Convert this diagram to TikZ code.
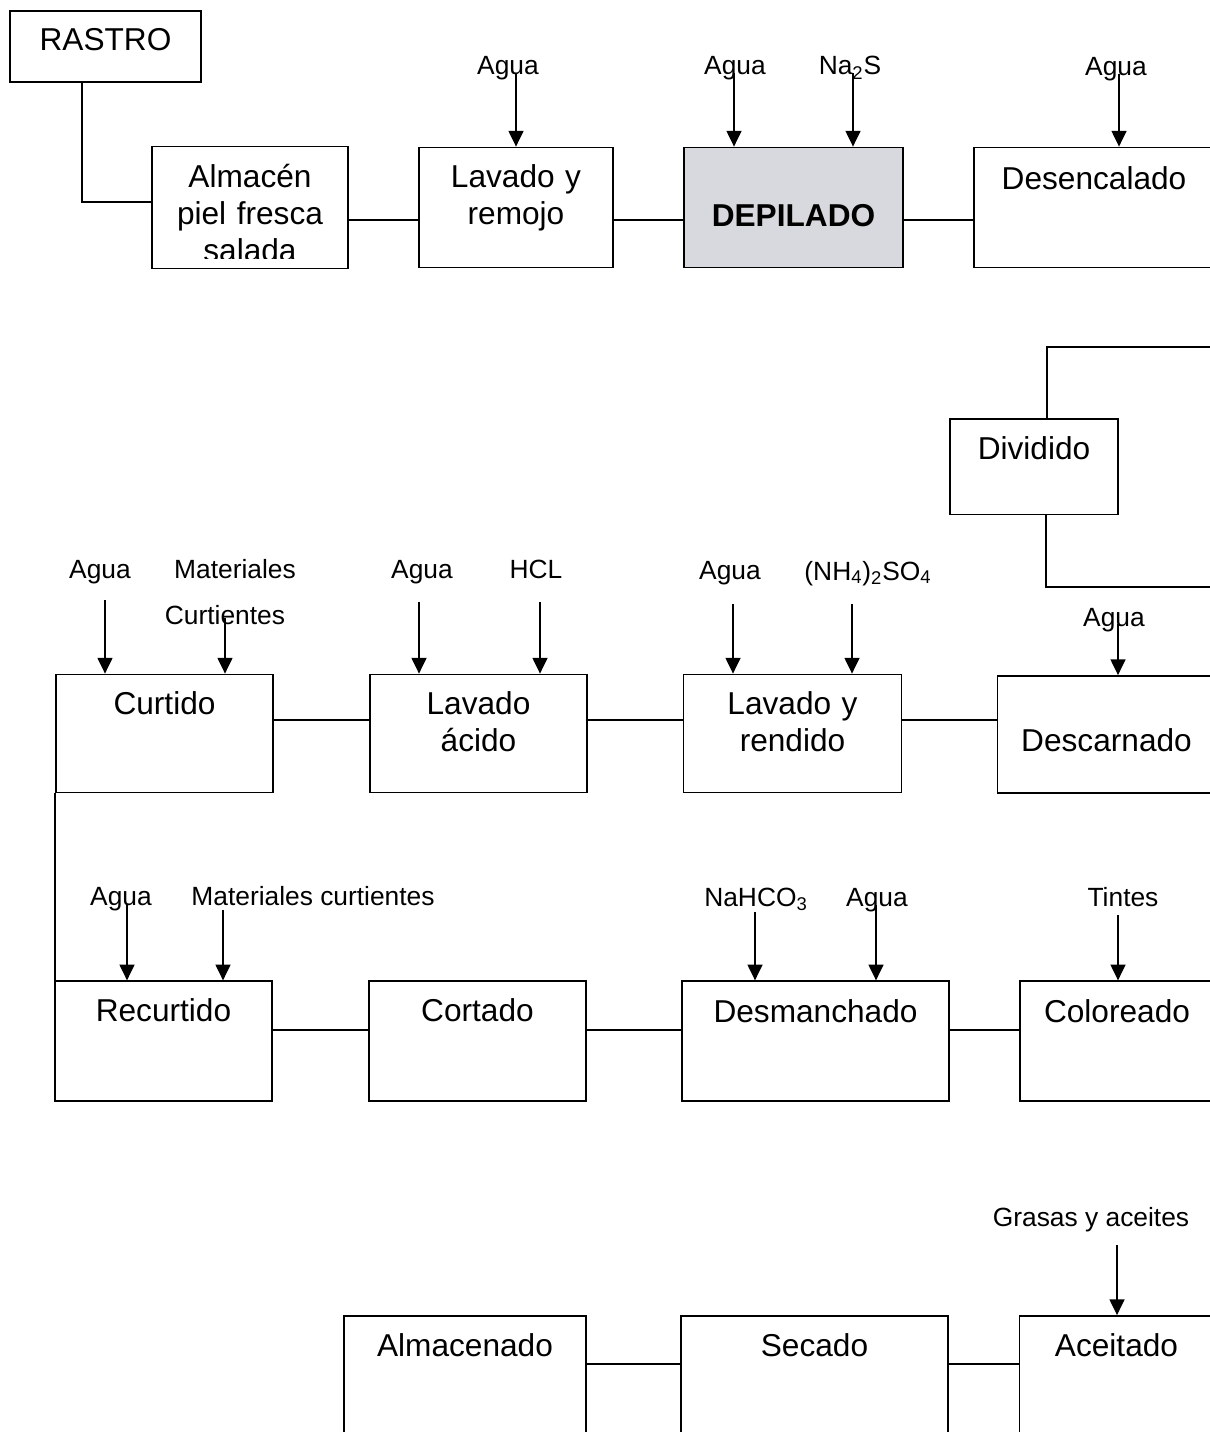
\documentclass[tikz,border=0pt]{standalone}
\usepackage{fontspec}
\setmainfont{Liberation Sans}
\usepackage{tikz}
\usetikzlibrary{positioning, arrows.meta}
\definecolor{depgray}{RGB}{216,217,222}
\tikzset{
  flujo/.style={
	>={Triangle[length=9pt, width=8.5pt]}, % filled heads on the inputs
	node distance=6.28cm, % centre to centre distance inside a row
  },
  proc/.style 2 args={draw, line width=1pt, inner sep=0pt, % process box
	text width=#1, align=center, % box width
	text height=0.8cm, text depth=#2, % text sits at the top of the box
	font=\fontsize{18}{21}\selectfont},
  insumo/.style={anchor=base, inner sep=0pt, font=\fontsize{15}{18}\selectfont}, % input labels
  link/.style={line width=0.8pt}, % lines between boxes
  entra/.style={->, line width=1pt}, % input arrows
}

\begin{document}
\begin{tikzpicture}[flujo]
	  \useasboundingbox (0,0) rectangle (24.2,-28.64);
	  \clip (0,0) rectangle (24.2,-28.64);

	  % row 1
	  \node[proc={3.82cm}{0.62cm}] (rastro) at (2.11,-0.93) {RASTRO};
	  \begin{scope}
	    \clip (0,-2) rectangle (10,-5.16);
	    \node[proc={3.88cm}{1.6cm}, draw=none] (almacen) at (5.0,-4.15) {Almacén\\piel fresca\\salada};
	  \end{scope}
	  \draw[line width=1pt] (almacen.south west) rectangle (almacen.north east);
	  \node[proc={3.88cm}{1.6cm}, right of=almacen, yshift=0cm, xshift=-0.96cm] (lavremojo) {Lavado y\\remojo};
	  \node[proc={4.38cm}{0.82cm}, text height=1.58cm, fill=depgray, font=\fontsize{18}{21}\selectfont\bfseries, right of=lavremojo, yshift=0cm, xshift=-0.73cm] (depilado) {DEPILADO};
	  \node[proc={4.8cm}{1.55cm}, text height=0.85cm, right of=depilado, yshift=0cm, xshift=-0.27cm] (desencalado) {Desencalado};

	  \node[proc={3.36cm}{1.11cm}] (dividido) at (20.68,-9.335) {Dividido};

	  % row 2
	  \node[proc={4.34cm}{1.56cm}] (curtido) at (3.29,-14.67) {Curtido};
	  \node[proc={4.34cm}{1.56cm}, right of=curtido, yshift=0cm, xshift=0cm] (lavacido) {Lavado\\ácido};
	  \node[proc={4.36cm}{1.56cm}, right of=lavacido, yshift=0cm, xshift=0cm] (lavrendido) {Lavado y\\rendido};
	  \node[proc={4.36cm}{0.84cm}, text height=1.5cm, right of=lavrendido, yshift=-0.02cm, xshift=0cm] (descarnado) {Descarnado};

	  % row 3
	  \node[proc={4.34cm}{1.59cm}] (recurtido) at (3.27,-20.82) {Recurtido};
	  \node[proc={4.34cm}{1.59cm}, right of=recurtido, yshift=0cm, xshift=0cm] (cortado) {Cortado};
	  \node[proc={5.34cm}{1.56cm}, text height=0.83cm, right of=cortado, yshift=0cm, xshift=0.48cm] (desmanchado) {Desmanchado};
	  \node[proc={3.88cm}{1.56cm}, text height=0.83cm, right of=desmanchado, yshift=0cm, xshift=-0.25cm] (coloreado) {Coloreado};

	  % row 4
	  \node[proc={4.84cm}{1.56cm}] (almacenado) at (9.3,-27.5) {Almacenado};
	  \node[proc={5.34cm}{1.56cm}, right of=almacenado, yshift=0cm, xshift=0.71cm] (secado) {Secado};
	  \node[proc={3.88cm}{1.56cm}, right of=secado, yshift=0cm, xshift=-0.24cm] (aceitado) {Aceitado};

	  % lines between the boxes
	  \draw[link] ([xshift=-0.47cm]rastro.south) |- ([yshift=0.11cm]almacen.west);
	  \draw[link] ([yshift=-0.25cm]almacen.east) edge ([yshift=-0.25cm]lavremojo.west)
		  ([yshift=-0.25cm]lavremojo.east) edge ([yshift=-0.25cm]depilado.west)
		  ([yshift=-0.25cm]depilado.east) edge ([yshift=-0.25cm]desencalado.west)
	  ;
	  \coordinate (vueltaA) at (25.5,-6.94);
	  \coordinate (vueltaB) at (25.5,-11.74);
	  \draw[link] (desencalado.east) -| (vueltaA) -| ([xshift=0.26cm]dividido.north);
	  \draw[link] ([xshift=0.24cm]dividido.south) |- (vueltaB) |- (descarnado.east);
	  \draw[link] ([yshift=0.27cm]curtido.east) edge ([yshift=0.27cm]lavacido.west)
		  ([yshift=0.27cm]lavacido.east) edge ([yshift=0.27cm]lavrendido.west)
		  ([yshift=0.27cm]lavrendido.east) edge ([yshift=0.27cm]lavrendido.east -| descarnado.west)
	  ;
	  \draw[link] (curtido.south west) -- (curtido.south west |- recurtido.north);
	  \draw[link] ([yshift=0.22cm]recurtido.east) edge ([yshift=0.22cm]cortado.west)
		  ([yshift=0.22cm]cortado.east) edge ([yshift=0.22cm]desmanchado.west)
		  ([yshift=0.22cm]desmanchado.east) edge ([yshift=0.22cm]coloreado.west)
	  ;
	  \draw[link] ([yshift=0.22cm]almacenado.east) edge ([yshift=0.22cm]secado.west)
		  ([yshift=0.22cm]secado.east) edge ([yshift=0.22cm]aceitado.west)
	  ;

	  % inputs of row 1
	  \node[insumo] (agua1) at (10.16,-1.50) {Agua};
	  \node[insumo] (agua2) at (14.70,-1.50) {Agua};
	  \node[insumo] (na2s) at (17.00,-1.50) {Na\textsubscript{2}S};
	  \node[insumo] (agua3) at (22.32,-1.52) {Agua};
	  \coordinate (in1) at (10.32,-1.46);
	  \coordinate (in2) at (14.68,-1.46);
	  \coordinate (in3) at (17.06,-1.46);
	  \coordinate (in4) at (22.38,-1.48);
	  \draw[entra] (in1) -- (in1 |- lavremojo.north);
	  \draw[entra] (in2) -- (in2 |- depilado.north);
	  \draw[entra] (in3) -- (in3 |- depilado.north);
	  \draw[entra] (in4) -- (in4 |- desencalado.north);

	  % inputs of row 2
	  \node[insumo] (agua4) at (2.00,-11.56) {Agua};
	  \node[insumo] (mata) at (4.70,-11.56) {Materiales};
	  \node[insumo] (matb) at (4.50,-12.48) {Curtientes};
	  \node[insumo] (agua5) at (8.44,-11.56) {Agua};
	  \node[insumo] (hcl) at (10.72,-11.56) {HCL};
	  \node[insumo] (agua6) at (14.60,-11.58) {Agua};
	  \node[insumo] (nh4) at (17.36,-11.60) {(NH\textsubscript{4})\textsubscript{2}SO\textsubscript{4}};
	  \node[insumo] (agua7) at (22.28,-12.52) {Agua};
	  \coordinate (in5) at (2.10,-12.0);
	  \coordinate (in6) at (4.50,-12.36);
	  \coordinate (in7) at (8.38,-12.04);
	  \coordinate (in8) at (10.80,-12.04);
	  \coordinate (in9) at (14.66,-12.08);
	  \coordinate (in10) at (17.04,-12.08);
	  \coordinate (in11) at (22.36,-12.48);
	  \draw[entra] (in5) -- (in5 |- curtido.north);
	  \draw[entra] (in6) -- (in6 |- curtido.north);
	  \draw[entra] (in7) -- (in7 |- lavacido.north);
	  \draw[entra] (in8) -- (in8 |- lavacido.north);
	  \draw[entra] (in9) -- (in9 |- lavrendido.north);
	  \draw[entra] (in10) -- (in10 |- lavrendido.north);
	  \draw[entra] (in11) -- (in11 |- descarnado.north);

	  % inputs of row 3
	  \node[insumo] (agua8) at (2.42,-18.10) {Agua};
	  \node[insumo] (matcur) at (6.26,-18.10) {Materiales curtientes};
	  \node[insumo] (nahco3) at (15.12,-18.12) {NaHCO\textsubscript{3}};
	  \node[insumo] (agua9) at (17.54,-18.12) {Agua};
	  \node[insumo] (tintes) at (22.46,-18.12) {Tintes};
	  \coordinate (in12) at (2.54,-18.08);
	  \coordinate (in13) at (4.46,-18.20);
	  \coordinate (in14) at (15.10,-18.24);
	  \coordinate (in15) at (17.52,-18.10);
	  \coordinate (in16) at (22.36,-18.30);
	  \draw[entra] (in12) -- (in12 |- recurtido.north);
	  \draw[entra] (in13) -- (in13 |- recurtido.north);
	  \draw[entra] (in14) -- (in14 |- desmanchado.north);
	  \draw[entra] (in15) -- (in15 |- desmanchado.north);
	  \draw[entra] (in16) -- (in16 |- coloreado.north);

	  % input of row 4
	  \node[insumo] (grasas) at (21.82,-24.52) {Grasas y aceites};
	  \coordinate (in17) at (22.34,-24.90);
	  \draw[entra] (in17) -- (in17 |- aceitado.north);
\end{tikzpicture}
\end{document}
